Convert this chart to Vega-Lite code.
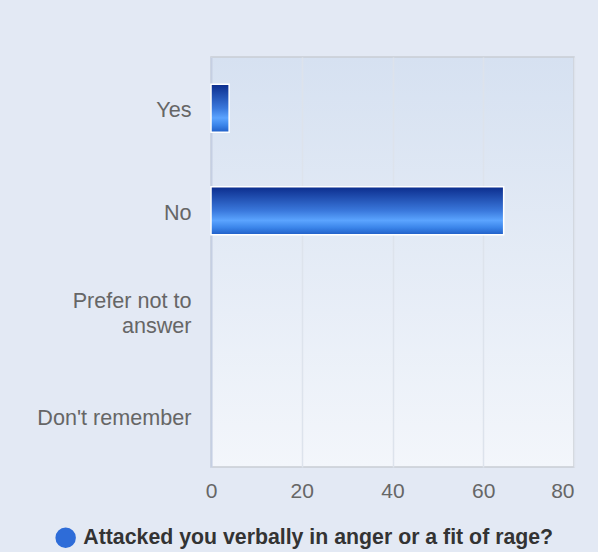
{
  "$schema": "https://vega.github.io/schema/vega-lite/v6.json",
  "width": 363,
  "height": 410,
  "autosize": {"type": "none"},
  "padding": {"left": 211, "top": 57, "right": 24, "bottom": 85},
  "background": "#e3e9f4",
  "config": {
    "font": "Liberation Sans",
    "view": {
      "fill": {"gradient": "linear", "x1": 0, "y1": 0, "x2": 0, "y2": 1, "stops": [{"offset": 0, "color": "#d6e1f1"}, {"offset": 1, "color": "#f3f6fb"}]},
      "stroke": "#c9cdd4",
      "strokeWidth": 1.5
    }
  },
  "data": {
    "values": [
      {"answer": "Yes", "value": 4, "series": "Attacked you verbally in anger or a fit of rage?"},
      {"answer": "No", "value": 64.5, "series": "Attacked you verbally in anger or a fit of rage?"},
      {"answer": "Prefer not to answer", "value": 0, "series": "Attacked you verbally in anger or a fit of rage?"},
      {"answer": "Don't remember", "value": 0, "series": "Attacked you verbally in anger or a fit of rage?"}
    ]
  },
  "encoding": {
    "y": {
      "field": "answer",
      "type": "nominal",
      "sort": null,
      "scale": {"paddingInner": 0.53, "paddingOuter": 0.265},
      "axis": {
        "title": null,
        "ticks": false,
        "grid": false,
        "domain": true,
        "domainColor": "#c5cfe3",
        "domainWidth": 2,
        "labelFontSize": 21.6,
        "labelColor": "#666666",
        "labelPadding": 20,
        "labelLineHeight": 25,
        "labelLimit": 300,
        "labelOffset": {"condition": {"test": "datum.value == 'Prefer not to answer'", "value": -11}, "value": 3},
        "labelExpr": "datum.value == 'Prefer not to answer' ? ['Prefer not to', 'answer'] : datum.value"
      }
    },
    "x": {
      "field": "value",
      "type": "quantitative",
      "scale": {"domain": [0, 80], "nice": false},
      "axis": {
        "title": null,
        "values": [0, 20, 40, 60, 80],
        "ticks": false,
        "domain": false,
        "grid": true,
        "gridColor": "#dde3ec",
        "gridWidth": 1.5,
        "labelFontSize": 21,
        "labelColor": "#666666",
        "labelPadding": 13,
        "labelFlush": false,
        "labelAlign": {"condition": {"test": "datum.value == 80", "value": "right"}, "value": "center"}
      }
    }
  },
  "layer": [
    {
      "mark": {"type": "bar", "strokeWidth": 0},
      "encoding": {
        "color": {
          "field": "series",
          "type": "nominal",
          "scale": {"range": ["#2e6cd8"]},
          "legend": {
            "title": null,
            "orient": "none",
            "legendX": -156,
            "legendY": 470,
            "symbolType": "circle",
            "symbolSize": 420,
            "symbolStrokeWidth": 0,
            "labelFontSize": 21.3,
            "labelFontWeight": "bold",
            "labelColor": "#333333",
            "labelLimit": 600,
            "labelOffset": 7
          }
        }
      }
    },
    {
      "mark": {
        "type": "bar",
        "fill": {"gradient": "linear", "x1": 0, "y1": 0, "x2": 0, "y2": 1, "stops": [
          {"offset": 0, "color": "#0b2c8c"},
          {"offset": 0.5, "color": "#3a78dc"},
          {"offset": 0.7, "color": "#5ba4ff"},
          {"offset": 0.85, "color": "#3b85ea"},
          {"offset": 1, "color": "#1f5dc6"}
        ]},
        "stroke": "white"
      },
      "encoding": {
        "strokeWidth": {"condition": {"test": "datum.value > 0", "value": 1.5}, "value": 0}
      }
    }
  ]
}
